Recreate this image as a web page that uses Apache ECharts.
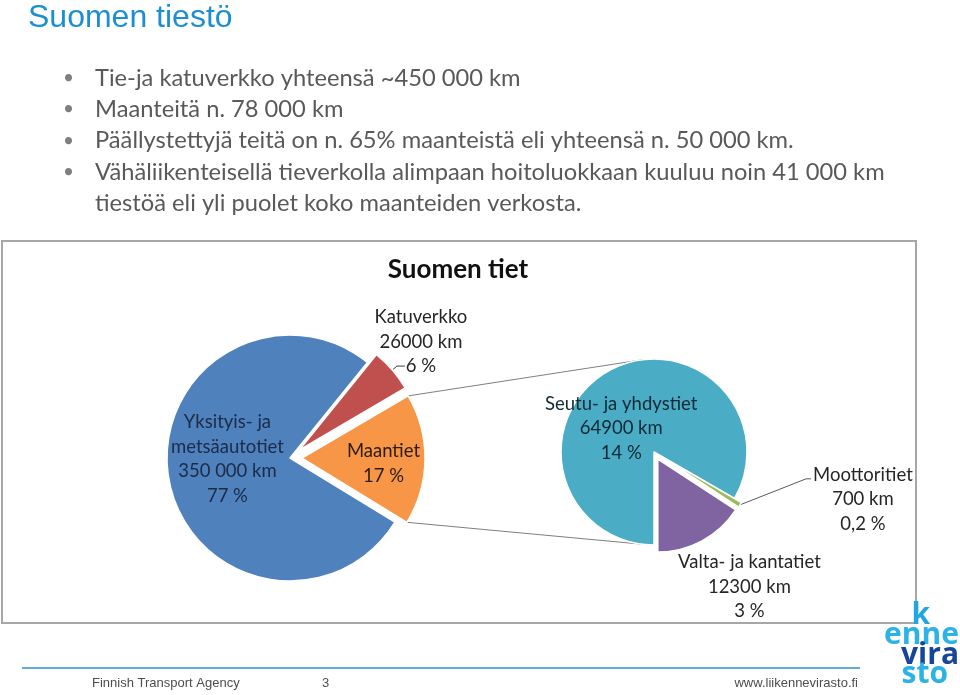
<!DOCTYPE html>
<html>
<head>
<meta charset="utf-8">
<script src="https://cdn.jsdelivr.net/npm/echarts@6/dist/echarts.min.js"></script>
<style>
html,body{margin:0;padding:0;background:#ffffff;}
#c{width:960px;height:695px;}
</style>
</head>
<body>
<div id="c"></div>
<script>
// ---------- DATA ----------
const slideTitle = 'Suomen tiestö';
const bulletLines = [
  'Tie-ja katuverkko yhteensä ~450 000 km',
  'Maanteitä n. 78 000 km',
  'Päällystettyjä teitä on n. 65% maanteistä eli yhteensä n. 50 000 km.',
  'Vähäliikenteisellä tieverkolla alimpaan hoitoluokkaan kuuluu noin 41 000 km',
  'tiestöä eli yli puolet koko maanteiden verkosta.'
];
const bulletFlags = [true, true, true, true, false];
const chartTitle = 'Suomen tiet';

const mainCategories = ['Katuverkko', 'Maantiet', 'Yksityis- ja\nmetsäautotiet'];
const mainValues = [26000, 78000, 350000];
const mainKm = ['26000 km', '', '350 000 km'];
const mainPercent = ['6 %', '17 %', '77 %'];

const subCategories = ['Seutu- ja yhdystiet', 'Moottoritiet', 'Valta- ja kantatiet'];
const subValues = [64900, 700, 12300];
const subKm = ['64900 km', '700 km', '12300 km'];
const subPercent = ['14 %', '0,2 %', '3 %'];

const footerLeft = 'Finnish Transport Agency';
const footerPage = '3';
const footerRight = 'www.liikennevirasto.fi';
const logoLines = ['k', 'enne', 'vira', 'sto'];

// ---------- STYLE / LAYOUT ----------
const mainColors = ['#c0504d', '#f79646', '#4f81bd'];
const subColors = ['#4bacc6', '#9bbb59', '#8064a2'];
const mainLabelColors = ['#262626', '#2a1c10', '#1c2b47'];
const subLabelColors = ['#0f2a35', '#262626', '#262626'];
const LABEL_FONT = 'Lato, "Open Sans", sans-serif';
const LFS = 18.5, LLH = 24.5;
const C1 = [290, 458], R1 = 123, START1 = 51, EXPLODE1 = 12;
const C2 = [654, 452], R2 = 93, START2 = 270, EXPLODE2 = 8;

function richLabel(lines) {
  return lines.filter(s => s !== '').map(s => '{c|' + s + '}').join('\n');
}
function pt(c, r, deg) {
  const a = deg * Math.PI / 180;
  return [c[0] + r * Math.cos(a), c[1] - r * Math.sin(a)];
}
const sum = a => a.reduce((x, y) => x + y, 0);

// connector geometry derived from the data angles
const total1 = sum(mainValues);
const oStart = START1 - 360 * mainValues[0] / total1;
const oEnd = oStart - 360 * mainValues[1] / total1;
const oMid = (oStart + oEnd) / 2;
const oCenter = pt(C1, EXPLODE1, oMid);
const topA = pt(oCenter, R1, oStart);
const botA = pt(oCenter, R1, oEnd);
const topB = pt(C2, R2, 97);
const botB = pt(C2, R2, 267);

const richBase = { c: { align: 'center', fontSize: LFS, lineHeight: LLH, fontFamily: LABEL_FONT } };

const mainData = mainCategories.map((name, i) => ({
  name: name,
  value: mainValues[i],
  selected: i !== 2,
  itemStyle: { color: mainColors[i] },
  label: {
    show: true,
    position: i === 0 ? 'outside' : 'inside',
    color: mainLabelColors[i],
    formatter: richLabel(name.split('\n').concat([mainKm[i], mainPercent[i]]))
  },
  labelLine: { show: i === 0, length: 6, length2: 8, lineStyle: { color: '#404040', width: 1 } }
}));

const subData = subCategories.map((name, i) => ({
  name: name,
  value: subValues[i],
  selected: i !== 0,
  itemStyle: { color: subColors[i] },
  label: {
    show: true,
    position: i === 0 ? 'inside' : 'outside',
    color: subLabelColors[i],
    formatter: richLabel([name, subKm[i], subPercent[i]])
  },
  labelLine: { show: i === 1, length: 10, length2: 10, lineStyle: { color: '#595959', width: 1 } }
}));

// move a label box so that its centre-x / top land on the wanted spot
function moveTo(p, cx, top) {
  const r = p.labelRect;
  return { dx: cx - (r.x + r.width / 2), dy: top - r.y };
}

// ---------- GRAPHIC (slide) ----------
const graphics = [];
graphics.push({ type: 'text', x: 28, y: 18, style: { text: slideTitle, fill: '#1b8fd2', font: '32px "Liberation Sans", Arial, sans-serif', verticalAlign: 'middle' } });
bulletLines.forEach((t, i) => {
  const y = 78 + i * 31.3;
  if (bulletFlags[i]) graphics.push({ type: 'text', x: 63, y: y, style: { text: '•', fill: '#7f7f7f', font: '19px ' + LABEL_FONT, verticalAlign: 'middle' } });
  graphics.push({ type: 'text', x: 95, y: y, style: { text: t, fill: '#595959', font: '23.7px ' + LABEL_FONT, verticalAlign: 'middle' } });
});
graphics.push({ type: 'rect', z: -1, shape: { x: 2, y: 241, width: 914, height: 382 }, style: { fill: '#ffffff', stroke: '#a6a6a6', lineWidth: 2 } });
graphics.push({ type: 'text', x: 458, y: 270, style: { text: chartTitle, fill: '#111111', font: 'bold 26px ' + LABEL_FONT, align: 'center', verticalAlign: 'middle' } });
graphics.push({ type: 'line', shape: { x1: topA[0], y1: topA[1], x2: topB[0], y2: topB[1] }, style: { stroke: '#7f7f7f', lineWidth: 1 } });
graphics.push({ type: 'line', shape: { x1: botA[0], y1: botA[1], x2: botB[0], y2: botB[1] }, style: { stroke: '#7f7f7f', lineWidth: 1 } });
// footer
graphics.push({ type: 'line', shape: { x1: 22, y1: 668, x2: 860, y2: 668 }, style: { stroke: '#2e8fd0', lineWidth: 1.5 } });
const footFont = '13px "Liberation Sans", Arial, sans-serif';
graphics.push({ type: 'text', x: 92, y: 683, style: { text: footerLeft, fill: '#4d4d4d', font: footFont, verticalAlign: 'middle' } });
graphics.push({ type: 'text', x: 322, y: 683, style: { text: footerPage, fill: '#4d4d4d', font: footFont, verticalAlign: 'middle' } });
graphics.push({ type: 'text', x: 858, y: 683, style: { text: footerRight, fill: '#4d4d4d', font: footFont, align: 'right', verticalAlign: 'middle' } });
// logo
const logoFont = 'bold 30px "Open Sans", Lato, sans-serif';
const logoCfg = [[930, 630, '#22a6df'], [959, 650, '#2bb3e6'], [959, 670, '#17459a'], [948, 689, '#2bb3e6']];
logoLines.forEach((t, i) => {
  graphics.push({ type: 'text', x: logoCfg[i][0], y: logoCfg[i][1], style: { text: t, fill: logoCfg[i][2], font: logoFont, align: 'right', verticalAlign: 'bottom', lineHeight: 30 } });
});

const option = {
  animation: false,
  backgroundColor: '#ffffff',
  graphic: graphics,
  series: [
    {
      type: 'pie',
      center: C1,
      radius: R1,
      startAngle: START1,
      clockwise: true,
      selectedMode: 'multiple',
      selectedOffset: EXPLODE1,
      avoidLabelOverlap: false,
      emphasis: { disabled: true },
      itemStyle: { borderColor: '#ffffff', borderWidth: 1.5 },
      label: { fontFamily: LABEL_FONT, fontSize: LFS, lineHeight: LLH, rich: richBase },
      labelLayout: function (p) {
        if (p.dataIndex === 0 && p.labelLinePoints) {
          const pts = p.labelLinePoints;
          const end = pts[pts.length - 1];
          const m = moveTo(p, end[0] + 16, end[1] - 2.5 * LLH);
          m.labelLinePoints = pts;
          return m;
        }
        if (p.dataIndex === 1) return { dx: 17, dy: 5 };
        if (p.dataIndex === 2) return { dx: 1, dy: -10 };
      },
      data: mainData
    },
    {
      type: 'pie',
      center: C2,
      radius: R2,
      startAngle: START2,
      clockwise: true,
      selectedMode: 'multiple',
      selectedOffset: EXPLODE2,
      avoidLabelOverlap: false,
      emphasis: { disabled: true },
      itemStyle: { borderColor: '#ffffff', borderWidth: 1.5 },
      label: { fontFamily: LABEL_FONT, fontSize: LFS, lineHeight: LLH, rich: richBase },
      labelLayout: function (p) {
        if (p.dataIndex === 0) return { dx: -8, dy: 19 };
        if (p.dataIndex === 1 && p.labelLinePoints) {
          const s = p.labelLinePoints[0];
          const pts = [s, [s[0] + 66, s[1] - 26], [s[0] + 71, s[1] - 26]];
          const m = moveTo(p, s[0] + 73 + p.labelRect.width / 2, s[1] - 26 - 4 - LLH / 2);
          m.labelLinePoints = pts;
          return m;
        }
        if (p.dataIndex === 2) {
          const r = p.rect;
          return moveTo(p, r.x + r.width + 13, r.y + r.height - 3);
        }
      },
      data: subData
    }
  ]
};

const chart = echarts.init(document.getElementById('c'), null, { width: 960, height: 695 });
chart.setOption(option);
</script>
</body>
</html>
